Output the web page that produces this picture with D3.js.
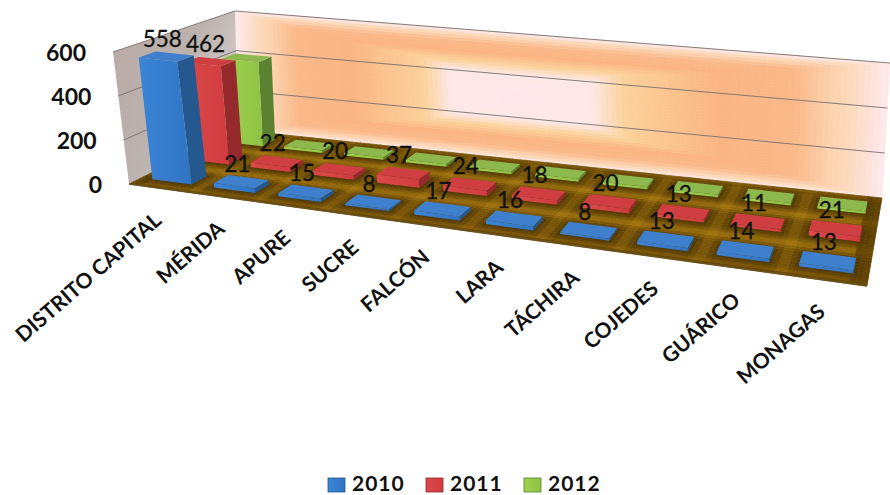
<!DOCTYPE html>
<html>
<head>
<meta charset="utf-8">
<script src="https://cdn.jsdelivr.net/npm/d3@7"></script>
<style>
  html, body { margin: 0; padding: 0; background: #fff; }
  svg { display: block; }
  text { font-family: Lato, "Open Sans", sans-serif; fill: #111; }
</style>
</head>
<body>
<svg id="chart" width="890" height="495"></svg>
<script>
const categories = ["DISTRITO CAPITAL", "MÉRIDA", "APURE", "SUCRE", "FALCÓN", "LARA", "TÁCHIRA", "COJEDES", "GUÁRICO", "MONAGAS"];
const years = ["2010", "2011", "2012"];
const values2010 = [558, 21, 15, 8, 17, 16, 8, 13, 14, 13];
const values2011 = [462, 22, 20, 37, 24, 18, 20, 13, 11, 21];
// 2012 has no labels in the picture
const values2012 = [410, 12, 11, 12, 11, 12, 11, 11, 11, 11];
const yTicks = [0, 200, 400, 600];

const allValues = [values2010, values2011, values2012];
const faces = [
  { front: "#2f75c4", frontEnd: "#3c84d6", side: "#24588f", top: "#3f80cc" },
  { front: "#d13b3f", frontEnd: "#da4a4a", side: "#952a2c", top: "#cf3f42" },
  { front: "#8fc344", frontEnd: "#a0d050", side: "#5a8231", top: "#8db84e" }
];

// corners of the floor and of the roof of the box, as seen in the picture
const floorQuad = [[129, 184], [867, 286], [882, 198], [238, 130]];
const roofQuad = [[113, 52], [876, 136], [890, 63], [235, 11]];

function homography(q) {
  const [[x0, y0], [x1, y1], [x2, y2], [x3, y3]] = q;
  const dx1 = x1 - x2, dx2 = x3 - x2, sx = x0 - x1 + x2 - x3;
  const dy1 = y1 - y2, dy2 = y3 - y2, sy = y0 - y1 + y2 - y3;
  const den = dx1 * dy2 - dx2 * dy1;
  const g = (sx * dy2 - dx2 * sy) / den;
  const h = (dx1 * sy - sx * dy1) / den;
  const a = x1 - x0 + g * x1, b = x3 - x0 + h * x3;
  const d = y1 - y0 + g * y1, e = y3 - y0 + h * y3;
  return (u, v) => {
    const w = g * u + h * v + 1;
    return [(a * u + b * v + x0) / w, (d * u + e * v + y0) / w];
  };
}

const onFloor = homography(floorQuad);
const onRoof = homography(roofQuad);

function project(u, v, w) {
  // the picture foreshortens less than the corners alone suggest
  const uw = u + 0.13 * u * (1 - u);
  const p = onFloor(uw, v), q = onRoof(uw, v);
  return [p[0] + (q[0] - p[0]) * w, p[1] + (q[1] - p[1]) * w];
}

const uScale = d3.scaleBand().domain(categories).range([0, 1]).paddingInner(0.36).paddingOuter(0.18);
const vScale = d3.scaleBand().domain(years).range([0, 1]).paddingInner(0.62).paddingOuter(0.3);
const wScale = d3.scaleLinear().domain([0, 600]).range([0, 1]);

const svg = d3.select("#chart");
const defs = svg.append("defs");
const quad = pts => "M" + pts.map(p => p[0].toFixed(2) + "," + p[1].toFixed(2)).join("L") + "Z";

// back wall, rectangular gradient from the centre
const wallDist = d3.scaleLinear().domain([0, 0.22, 0.31, 0.65, 0.86, 1]).range([0, 0.38, 0.55, 0.75, 0.93, 1]).clamp(true);
const wallDistV = d3.scaleLinear().domain([0, 0.35, 0.5, 0.7, 0.9, 1]).range([0, 0.38, 0.55, 0.75, 0.93, 1]).clamp(true);
const wallColor = d3.scaleLinear()
  .domain([0, 0.38, 0.55, 0.7, 0.85, 0.95, 1])
  .range(["#fde6ea", "#fde8e6", "#fbd29a", "#fab583", "#fab888", "#fcd8b8", "#fde9ee"]);

const wallCells = [];
const wallRows = 44, wallCols = 130;
d3.range(wallRows).forEach(r => d3.range(wallCols).forEach(c => wallCells.push({ c, r })));

svg.append("g").selectAll("path").data(wallCells).join("path")
  .attr("d", d => {
    const u0 = d.c / wallCols, u1 = (d.c + 1) / wallCols, w0 = d.r / wallRows, w1 = (d.r + 1) / wallRows;
    return quad([project(u0, 1, w0), project(u1, 1, w0), project(u1, 1, w1), project(u0, 1, w1)]);
  })
  .each(function (d) {
    const u = (d.c + 0.5) / wallCols, w = (d.r + 0.5) / wallRows;
    const dh = wallDist(u < 0.47 ? (0.47 - u) / 0.47 : (u - 0.47) / 0.53);
    const dv = wallDistV(Math.abs(w - 0.5) / 0.5);
    const col = wallColor(Math.max(dh, dv));
    d3.select(this).attr("fill", col).attr("stroke", col).attr("stroke-width", 0.7);
  });

// left wall
const leftGrad = defs.append("linearGradient").attr("id", "leftWall")
  .attr("x1", 0).attr("y1", 0).attr("x2", 1).attr("y2", 0.6);
leftGrad.append("stop").attr("offset", 0).attr("stop-color", "#b9a9a5");
leftGrad.append("stop").attr("offset", 0.55).attr("stop-color", "#bcb2ae");
leftGrad.append("stop").attr("offset", 1).attr("stop-color", "#d6d0cd");
svg.append("path")
  .attr("d", quad([project(0, 0, 0), project(0, 0, 1), project(0, 1, 1), project(0, 1, 0)]))
  .attr("fill", "url(#leftWall)");

// grid lines
svg.append("g").selectAll("path").data(yTicks.filter(t => t > 0)).join("path")
  .attr("d", t => {
    const w = wScale(t);
    return "M" + project(0, 0, w) + "L" + project(0, 1, w) + "L" + project(1, 1, w);
  })
  .attr("fill", "none").attr("stroke", "#77706e").attr("stroke-width", 0.9);

// floor, gets darker close to the bars
const floorColor = d3.scaleLinear().domain([0, 0.01, 0.022, 0.034]).range(["#523902", "#6a4904", "#8f660a", "#b58510"]).clamp(true);

function barDist(u, v) {
  let best = 1;
  categories.forEach(cat => years.forEach(yr => {
    const u0 = uScale(cat), u1 = u0 + uScale.bandwidth();
    const v0 = vScale(yr), v1 = v0 + vScale.bandwidth();
    const du = Math.max(u0 - u, 0, u - u1);
    const dv = Math.max(v0 - v, 0, v - v1) * 0.25;
    best = Math.min(best, Math.hypot(du, dv));
  }));
  return best;
}

const floorCells = [];
const floorRows = 36, floorCols = 150;
d3.range(floorRows).forEach(r => d3.range(floorCols).forEach(c => floorCells.push({ c, r })));

svg.append("g").selectAll("path").data(floorCells).join("path")
  .attr("d", d => {
    const u0 = d.c / floorCols, u1 = (d.c + 1) / floorCols, v0 = d.r / floorRows, v1 = (d.r + 1) / floorRows;
    return quad([project(u0, v0, 0), project(u1, v0, 0), project(u1, v1, 0), project(u0, v1, 0)]);
  })
  .each(function (d) {
    const u = (d.c + 0.5) / floorCols, v = (d.r + 0.5) / floorRows;
    const edge = Math.min(v, u, 1 - u) < 0.02 ? 0.4 : (v > 0.95 ? 0.65 : 1);
    const col = d3.color(floorColor(barDist(u, v) * edge));
    d3.select(this).attr("fill", col).attr("stroke", col).attr("stroke-width", 0.7);
  });

// front lip of the floor
svg.append("path")
  .attr("d", "M" + project(0, 0, 0) + "L" + project(1, 0, 0))
  .attr("stroke", "#6b5320").attr("stroke-width", 1.6).attr("fill", "none");

// bars, back row first
faces.forEach((f, s) => {
  const g = defs.append("linearGradient").attr("id", "front" + s);
  g.append("stop").attr("offset", 0).attr("stop-color", f.frontEnd);
  g.append("stop").attr("offset", 1).attr("stop-color", f.front);
});

d3.range(years.length).reverse().forEach(s => {
  const yr = years[s];
  const row = svg.append("g").selectAll("g")
    .data(categories.map((cat, i) => ({ cat, value: allValues[s][i] })))
    .join("g");
  const corners = d => {
    const u0 = uScale(d.cat), u1 = u0 + uScale.bandwidth();
    const v0 = vScale(yr), v1 = v0 + vScale.bandwidth();
    return { u0, u1, v0, v1, w: wScale(d.value) };
  };
  row.append("path").attr("fill", faces[s].side)
    .attr("d", d => {
      const c = corners(d);
      return quad([project(c.u1, c.v0, 0), project(c.u1, c.v1, 0), project(c.u1, c.v1, c.w), project(c.u1, c.v0, c.w)]);
    });
  row.append("path").attr("fill", `url(#front${s})`)
    .attr("d", d => {
      const c = corners(d);
      return quad([project(c.u0, c.v0, 0), project(c.u1, c.v0, 0), project(c.u1, c.v0, c.w), project(c.u0, c.v0, c.w)]);
    });
  row.append("path").attr("fill", faces[s].top)
    .attr("d", d => {
      const c = corners(d);
      return quad([project(c.u0, c.v0, c.w), project(c.u1, c.v0, c.w), project(c.u1, c.v1, c.w), project(c.u0, c.v1, c.w)]);
    });
});

// value labels, only 2010 and 2011 carry them
[1, 0].forEach(s => {
  svg.append("g").selectAll("text")
    .data(categories.map((cat, i) => ({ cat, value: allValues[s][i], i })))
    .join("text")
    .attr("x", d => {
      const u = uScale(d.cat) + uScale.bandwidth() / 2;
      return project(u, vScale(years[s]) + vScale.bandwidth() / 2, wScale(d.value))[0] - 4;
    })
    .attr("y", d => {
      const u = uScale(d.cat) + uScale.bandwidth() / 2;
      return project(u, vScale(years[s]) + vScale.bandwidth() / 2, wScale(d.value))[1] - 10;
    })
    .attr("text-anchor", "middle")
    .attr("font-size", 22.5)
    .attr("stroke", "#111").attr("stroke-width", 0.3)
    .text(d => d.value);
});

// y axis labels
svg.append("g").selectAll("text").data(yTicks).join("text")
  .attr("x", t => project(0, 0, wScale(t))[0] - 27)
  .attr("y", t => project(0, 0, wScale(t))[1] + 9)
  .attr("text-anchor", "end")
  .attr("font-size", 23)
  .attr("font-weight", 700)
  .text(t => t);

// category labels
svg.append("g").selectAll("text").data(categories).join("text")
  .attr("transform", d => {
    const p = project(uScale(d) + uScale.bandwidth() / 2, 0, 0);
    return `translate(${p[0] + 3},${p[1] + 34}) rotate(-41)`;
  })
  .attr("text-anchor", "end")
  .attr("font-size", 21)
  .attr("font-weight", 700)
  .text(d => d);

// legend
const legendX = d3.scaleOrdinal().domain(years).range([328, 426, 524]);
const legend = svg.append("g").selectAll("g").data(years).join("g")
  .attr("transform", d => `translate(${legendX(d)},477)`);
legend.append("rect")
  .attr("y", 1)
  .attr("width", 17).attr("height", 14)
  .attr("fill", (d, i) => `url(#front${i})`)
  .attr("stroke", (d, i) => faces[i].side).attr("stroke-width", 0.8);
legend.append("text")
  .attr("x", 24).attr("y", 13.5)
  .attr("font-size", 21).attr("font-weight", 700)
  .attr("letter-spacing", 1)
  .text(d => d);
</script>
</body>
</html>
